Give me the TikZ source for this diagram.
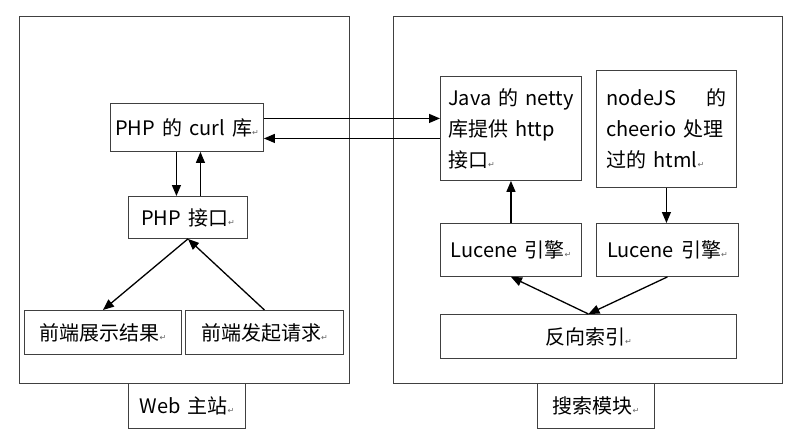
\documentclass[tikz,border=0pt]{standalone}
\usepackage{fontspec}
\setmainfont[WordSpace=1.6]{Noto Sans CJK SC}
\newfontfamily\symfont{DejaVu Sans}
\usetikzlibrary{arrows.meta}
\newcommand{\ret}{{\symfont\fontsize{8}{8}\selectfont\color{black!60}↵}}

\begin{document}
\begin{tikzpicture}[x=1pt,y=-1pt,
  box/.style={draw=black!75, line width=0.9pt, inner sep=0pt, anchor=north west,
    font=\fontsize{20}{31}\selectfont},
  link/.style={-{Triangle[length=11pt,width=9pt]}, line width=1.3pt}]
\useasboundingbox (0,0) rectangle (809,442);
\fill[white] (0,0) rectangle (809,442);

\node[box, minimum width=330pt, minimum height=367pt] (webbox) at (19,16) {};
\node[box, minimum width=117pt, minimum height=45pt] (web) at (128,383) {Web 主站\ret};
\node[box, minimum width=153pt, minimum height=48pt] (curl) at (110,103) {PHP 的 curl 库\ret};
\node[box, minimum width=119pt, minimum height=42pt] (phpapi) at (128,196) {PHP 接口\ret};
\node[box, minimum width=157pt, minimum height=44pt] (show) at (24,310) {前端展示结果\ret};
\node[box, minimum width=158pt, minimum height=44pt] (request) at (185,310) {前端发起请求\ret};

\node[box, minimum width=389pt, minimum height=367pt] (searchbox) at (393,16) {};
\node[box, minimum width=117pt, minimum height=45pt] (search) at (537,383) {搜索模块\ret};
\node[box, minimum width=141pt, minimum height=104pt, align=left] (java) at (440,76)
  {Java 的 netty\\库提供 http\\接口\ret};
\node[box, minimum width=140pt, minimum height=117pt, align=left] (nodejs) at (596,70)
  {nodeJS\hspace{30pt}的\\cheerio 处理\\过的 html\ret};
\node[box, minimum width=141pt, minimum height=53pt] (lucA) at (440,223) {Lucene 引擎\ret};
\node[box, minimum width=142pt, minimum height=53pt] (lucB) at (596,223) {Lucene 引擎\ret};
\node[box, minimum width=296pt, minimum height=44pt] (index) at (440,314) {反向索引\ret};

\draw[link] ([xshift=-10.5pt]curl.south) -- ([xshift=-10.5pt]curl.south |- phpapi.north);
\draw[link] ([xshift=13.5pt]curl.south |- phpapi.north) -- ([xshift=13.5pt]curl.south);
\draw[link] (phpapi.south) -- (show.north);
\draw[link] (request.north) -- (phpapi.south);
\draw[link] ([yshift=9pt]curl.east) -- ([yshift=9pt]curl.east -| java.west);
\draw[link] ([yshift=-10pt]java.west) -- ([yshift=-10pt]java.west -| curl.east);
\draw[link] (lucA.north) -- (java.south);
\draw[link] (nodejs.south) -- (nodejs.south |- lucB.north);
\draw[link] (index.north) -- (lucA.south);
\draw[link] (lucB.south) -- (index.north);
\end{tikzpicture}
\end{document}
